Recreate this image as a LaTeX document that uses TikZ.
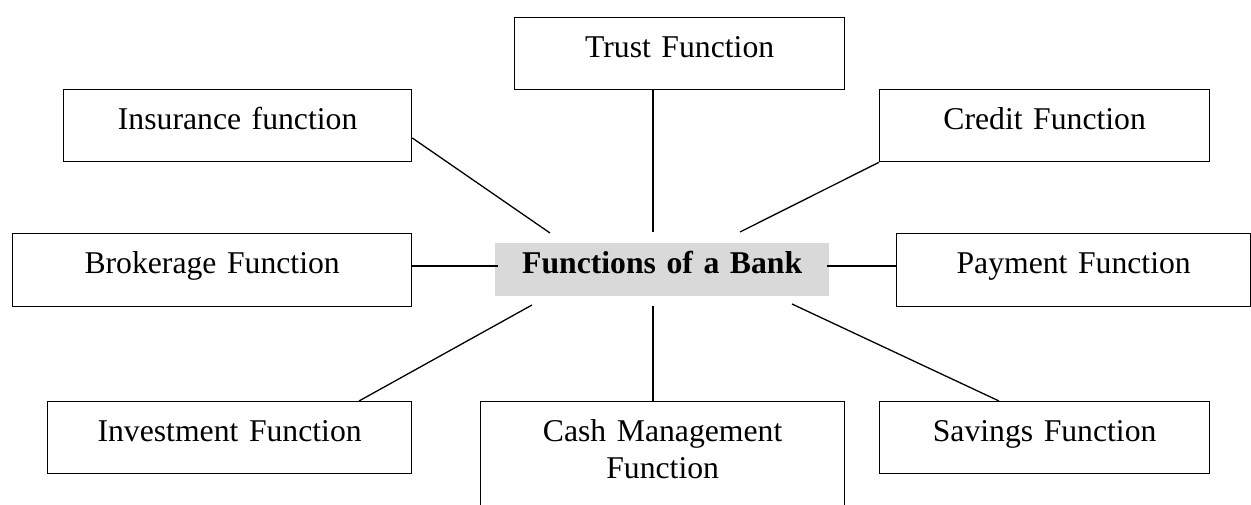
\documentclass[tikz,border=0pt]{standalone}
\usepackage{fontspec}
\setmainfont{Liberation Serif}
\usetikzlibrary{calc}
\begin{document}
\begin{tikzpicture}[x=1pt,y=-1pt,
  fbox/.style={draw, line width=1.3pt, anchor=north west, inner sep=0pt,
    text height=40pt, text depth=32pt, align=center,
    font=\fontsize{31.7}{37}\selectfont},
  hub/.style={fill=black!15, anchor=north west, inner sep=0pt,
    text height=30pt, text depth=23pt, align=center,
    font=\bfseries\fontsize{31.7}{37}\selectfont},
  link/.style={line width=1.3pt}]
\useasboundingbox (0,0) rectangle (1251,505);
\clip (0,0) rectangle (1251,505);

\node[fbox, text width=330pt] (trust) at (514,17) {Trust Function};
\node[fbox, text width=348pt] (insurance) at (63,89) {Insurance function};
\node[fbox, text width=330pt] (credit) at (879,89) {Credit Function};
\node[fbox, text width=399pt, text depth=33pt] (brokerage) at (12,233) {Brokerage Function};
\node[fbox, text width=354pt, text depth=33pt] (payment) at (896,233) {Payment Function};
\node[hub, text width=334pt] (center) at (495,243) {Functions of a Bank};
\node[fbox, text width=364pt] (investment) at (47,401) {Investment Function};
\node[fbox, text width=364pt, text depth=80pt] (cash) at (480,401) {Cash Management\\Function};
\node[fbox, text width=330pt] (savings) at (879,401) {Savings Function};

\coordinate (eT) at (653,232);
\draw[link] (trust.south west -| eT) -- (eT);
\coordinate (eI) at (550,233);
\draw[link] ($(insurance.north east)+(0,49)$) -- (eI);
\coordinate (eC) at (740,232);
\draw[link] (credit.south west) -- (eC);
\coordinate (eB) at (498,266);
\draw[link] (brokerage.east |- eB) -- (eB);
\coordinate (eP) at (827,266);
\draw[link] (payment.west |- eP) -- (eP);
\coordinate (eV) at (532,305);
\draw[link] ($(investment.north west)+(312,0)$) -- (eV);
\coordinate (eM) at (653,306);
\draw[link] (cash.north -| eM) -- (eM);
\coordinate (eS) at (792,304);
\draw[link] ($(savings.north west)+(120,0)$) -- (eS);
\end{tikzpicture}
\end{document}
